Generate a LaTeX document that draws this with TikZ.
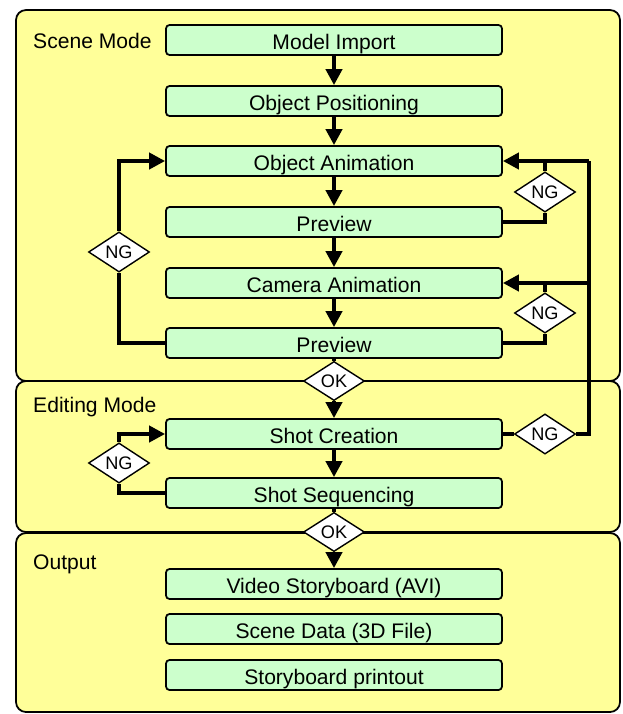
\documentclass[tikz,border=0pt]{standalone}
\usepackage{fontspec}
\setmainfont{Liberation Sans}
\usetikzlibrary{arrows.meta,shapes.geometric}
\definecolor{panelyellow}{HTML}{FFFF99}
\definecolor{stepgreen}{HTML}{CCFFCC}
\tikzset{
  panel/.style={draw,line width=1.5pt,fill=panelyellow,rounded corners=0.3cm},
  stepbox/.style={draw,line width=1.5pt,rounded corners=3pt,fill=stepgreen,
    minimum width=10.08cm,minimum height=0.9cm,inner sep=0pt,
    text height=16.2pt,text depth=0.7pt,
    font=\fontsize{18}{21}\selectfont},
  check/.style={diamond,draw,line width=1.2pt,fill=white,inner sep=0pt,
    minimum width=1.83cm,minimum height=0.87cm,font=\fontsize{15.5}{17}\selectfont},
  modelabel/.style={anchor=base west,inner sep=0pt,font=\fontsize{18}{21}\selectfont},
  link/.style={line width=3.4pt},
  thinlink/.style={line width=2.6pt},
  flow/.style={line width=3.4pt,-{Triangle[length=4.8mm,width=4.8mm]}},
}
\begin{document}
\begin{tikzpicture}[x=0.03cm,y=-0.03cm]
\useasboundingbox (0,0) rectangle (623,714);
% three modes
\draw[panel] (16,10) rectangle (620,381);
\draw[panel] (16,381) rectangle (620,532);
\draw[panel] (16,533) rectangle (620,712);
\node[modelabel] (scenemode) at (33,48) {Scene Mode};
\node[modelabel] (editmode) at (33,412) {Editing Mode};
\node[modelabel] (outmode) at (33,569) {Output};
% steps
\node[stepbox] (import) at (334,40) {Model Import};
\node[stepbox] (position) at (334,101) {Object Positioning};
\node[stepbox] (objanim) at (334,161) {Object Animation};
\node[stepbox] (preview1) at (334,222) {Preview};
\node[stepbox] (camanim) at (334,283) {Camera Animation};
\node[stepbox] (preview2) at (334,343) {Preview};
\node[stepbox] (shot) at (334,434) {Shot Creation};
\node[stepbox] (sequence) at (334,493) {Shot Sequencing};
\node[stepbox] (video) at (334,584) {Video Storyboard (AVI)};
\node[stepbox] (scenedata) at (334,629) {Scene Data (3D File)};
\node[stepbox] (printout) at (334,675) {Storyboard printout};
% checks
\node[check] (ngobj) at (545,192) {NG};
\node[check] (ngcam) at (545,313) {NG};
\node[check] (ngscene) at (119,252) {NG};
\node[check] (okscene) at (334,381) {OK};
\node[check] (ngshot) at (545,434) {NG};
\node[check] (ngedit) at (119,463) {NG};
\node[check] (okedit) at (334,532) {OK};
\coordinate (back) at (589,161);
\coordinate (backcam) at (589,283);
% main line
\draw[flow] (import) -- (position);
\draw[flow] (position) -- (objanim);
\draw[flow] (objanim) -- (preview1);
\draw[flow] (preview1) -- (camanim);
\draw[flow] (camanim) -- (preview2);
\draw[link] (preview2) -- (okscene);
\draw[flow] (okscene) -- (shot);
\draw[flow] (shot) -- (sequence);
\draw[link] (sequence) -- (okedit);
\draw[flow] (okedit) -- (video);
% retakes
\draw[thinlink] (preview1.east) -| (ngobj.south);
\draw[link] (ngobj.north) -- (ngobj.north |- objanim.east);
\draw[thinlink] (preview2.east) -| (ngcam.south);
\draw[link] (ngcam.north) -- (ngcam.north |- camanim.east);
\draw[link] (shot.east) -- (ngshot.west);
\draw[link] (ngshot.east) -| (back);
\draw[flow] (back) -- (objanim.east);
\draw[flow] (backcam) -- (camanim.east);
\draw[link] (preview2.west) -| (ngscene.south);
\draw[flow] (ngscene.north) |- (objanim.west);
\draw[link] (sequence.west) -| (ngedit.south);
\draw[flow] (ngedit.north) |- (shot.west);
\end{tikzpicture}
\end{document}
